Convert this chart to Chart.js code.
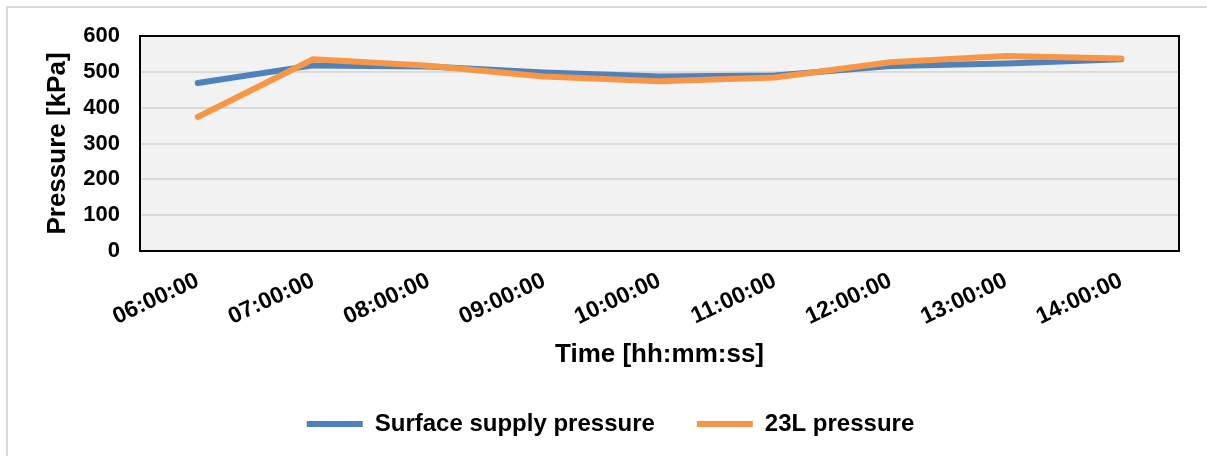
<!DOCTYPE html>
<html>
<head>
<meta charset="utf-8">
<script src="https://cdn.jsdelivr.net/npm/chart.js@4"></script>
<style>
  body { margin: 0; background: #fff; }
  #wrap { width: 1207px; height: 456px; }
</style>
</head>
<body>
<div id="wrap"><canvas id="pressureChart" width="1207" height="456"></canvas></div>
<script>
var times = ["06:00:00", "07:00:00", "08:00:00", "09:00:00", "10:00:00", "11:00:00", "12:00:00", "13:00:00", "14:00:00"];
var surfacePressure = [469, 518, 515, 498, 487, 490, 516, 523, 535];
var pressure23L = [374, 535, 517, 487, 474, 484, 527, 544, 537];
var yTicks = [0, 100, 200, 300, 400, 500, 600];

var FONT = "'Liberation Sans', Arial, sans-serif";

// white page, light outer frame, grey plot area and black plot border
var frame = {
    id: "frame",
    beforeDraw: function (chart) {
        var c = chart.ctx, a = chart.chartArea;
        c.save();
        c.fillStyle = "#ffffff";
        c.fillRect(0, 0, chart.width, chart.height);
        c.strokeStyle = "#d9d9d9";
        c.lineWidth = 2;
        c.beginPath();
        c.moveTo(7, chart.height);
        c.lineTo(7, 7);
        c.lineTo(chart.width, 7);
        c.stroke();
        c.fillStyle = "#f2f2f2";
        c.fillRect(a.left, a.top, a.right - a.left, a.bottom - a.top);
        c.restore();
    },
    afterDatasetsDraw: function (chart) {
        var c = chart.ctx, a = chart.chartArea;
        c.save();
        c.strokeStyle = "#000000";
        c.lineWidth = 2;
        c.strokeRect(a.left, a.top, a.right - a.left, a.bottom - a.top);
        c.restore();
    }
};

var ctx = document.getElementById("pressureChart");

var myChart = new Chart(ctx, {
    type: "line",
    data: {
        labels: times,
        datasets: [{
            label: "Surface supply pressure",
            data: surfacePressure,
            borderColor: "#4f81bd",
            backgroundColor: "#4f81bd",
            borderWidth: 6,
            borderCapStyle: "round",
            borderJoinStyle: "round",
            pointRadius: 0,
            tension: 0,
            order: 1
        }, {
            label: "23L pressure",
            data: pressure23L,
            borderColor: "#f79646",
            backgroundColor: "#f79646",
            borderWidth: 6,
            borderCapStyle: "round",
            borderJoinStyle: "round",
            pointRadius: 0,
            tension: 0,
            order: 0
        }]
    },
    options: {
        responsive: false,
        animation: false,
        layout: { padding: { top: 36, right: 0, bottom: 10, left: 14 } },
        plugins: {
            tooltip: { enabled: false },
            legend: {
                position: "bottom",
                labels: {
                    font: { family: FONT, size: 24, weight: "bold" },
                    color: "#000",
                    usePointStyle: true,
                    pointStyle: "line",
                    pointStyleWidth: 56,
                    boxHeight: 5,
                    padding: 42,
                    sort: function (a, b) { return a.datasetIndex - b.datasetIndex; }
                }
            }
        },
        scales: {
            x: {
                offset: true,
                grid: { display: false, drawTicks: false },
                border: { display: false },
                ticks: {
                    autoSkip: false,
                    minRotation: 25,
                    maxRotation: 25,
                    padding: 16,
                    color: "#000",
                    font: { family: FONT, size: 23, weight: "bold" }
                },
                title: {
                    display: true,
                    text: "Time [hh:mm:ss]",
                    color: "#000",
                    font: { family: FONT, size: 26, weight: "bold" },
                    padding: { top: 0, bottom: 0 }
                },
                afterFit: function (scale) { scale.height = 119; }
            },
            y: {
                min: 0,
                max: 600,
                afterBuildTicks: function (scale) {
                    scale.ticks = yTicks.map(function (v) { return { value: v }; });
                },
                grid: { color: "#d9d9d9", lineWidth: 2, drawTicks: false },
                border: { display: false },
                ticks: {
                    padding: 20,
                    color: "#000",
                    font: { family: FONT, size: 22, weight: "bold" }
                },
                title: {
                    display: true,
                    text: "Pressure [kPa]",
                    color: "#000",
                    font: { family: FONT, size: 26, weight: "bold" },
                    padding: { top: 28, bottom: 0 }
                },
                afterFit: function (scale) { scale.width = 126; }
            },
            // empty right-hand gap so the plot ends where the reference does
            gap: {
                position: "right",
                grid: { display: false, drawTicks: false },
                border: { display: false },
                ticks: { display: false },
                afterFit: function (scale) { scale.width = 28; }
            }
        }
    },
    plugins: [frame]
});
</script>
</body>
</html>
